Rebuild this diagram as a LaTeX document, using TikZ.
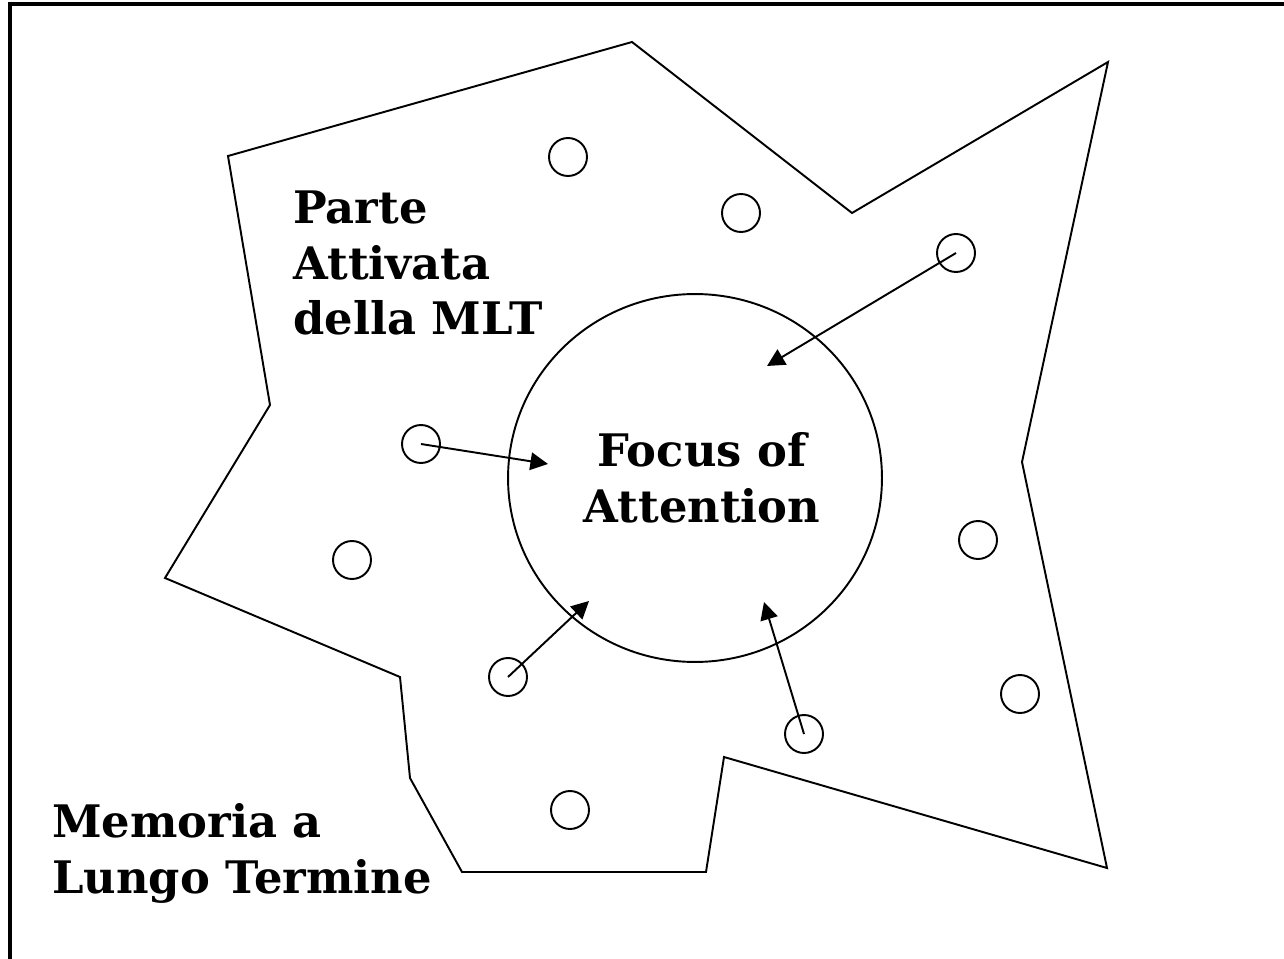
\documentclass[tikz,border=0pt]{standalone}
\usepackage{fontspec}
\setmainfont{DejaVu Serif}
\usetikzlibrary{arrows.meta,shapes.geometric}
\begin{document}
\begin{tikzpicture}[x=0.02cm,y=-0.02cm,
    lbl/.style={font=\fontsize{25.5}{31.7}\selectfont\bfseries,inner sep=0pt},
    item/.style={draw,circle,line width=1.1pt,minimum size=0.76cm,inner sep=0pt},
    link/.style={line width=1.1pt,-{Triangle[length=10pt,width=10pt]}}]
    \useasboundingbox (0,0) rectangle (1284,959);

    % cornice (solo alto e sinistra)
    \draw[line width=2.3pt] (1284,4) -- (10,4) -- (10,959);

    % memoria a lungo termine
    \coordinate (P1) at (228,156);
    \coordinate (P2) at (632,42);
    \coordinate (P3) at (852,213);
    \coordinate (P4) at (1108,62);
    \coordinate (P5) at (1022,462);
    \coordinate (P6) at (1107,868);
    \coordinate (P7) at (724,757);
    \coordinate (P8) at (706,872);
    \coordinate (P9) at (462,872);
    \coordinate (P10) at (410,778);
    \coordinate (P11) at (400,677);
    \coordinate (P12) at (165,578);
    \coordinate (P13) at (270,405);
    \draw[line width=1.1pt] (P1) -- (P2) -- (P3) -- (P4) -- (P5) -- (P6) -- (P7)
        -- (P8) -- (P9) -- (P10) -- (P11) -- (P12) -- (P13) -- cycle;

    % focus
    \node[draw,ellipse,line width=1.1pt,minimum width=7.48cm,minimum height=7.36cm,inner sep=0pt] (focus) at (695,478) {};

    % elementi
    \node[item] (m1) at (568,157) {};
    \node[item] (m2) at (741,213) {};
    \node[item] (m3) at (956,253) {};
    \node[item] (m4) at (421,444) {};
    \node[item] (m5) at (352,560) {};
    \node[item] (m6) at (978,540) {};
    \node[item] (m7) at (1020,694) {};
    \node[item] (m8) at (508,677) {};
    \node[item] (m9) at (804,734) {};
    \node[item] (m10) at (570,810) {};

    % punte delle frecce
    \coordinate (t3) at (767,366);
    \coordinate (t4) at (548,464);
    \coordinate (t8) at (589,601);
    \coordinate (t9) at (764,602);
    \draw[link] (m3.center) -- (t3);
    \draw[link] (m4.center) -- (t4);
    \draw[link] (m8.center) -- (t8);
    \draw[link] (m9.center) -- (t9);

    % testi (base = ultima riga)
    \node[lbl,align=left,anchor=base west] (mlt) at (293,335) {Parte\\Attivata\\della MLT};
    \node[lbl,align=center,anchor=base] (foa) at (702,522) {Focus of\\Attention};
    \node[lbl,align=left,anchor=base west] (ltm) at (52,893) {Memoria a\\Lungo Termine};
\end{tikzpicture}
\end{document}
